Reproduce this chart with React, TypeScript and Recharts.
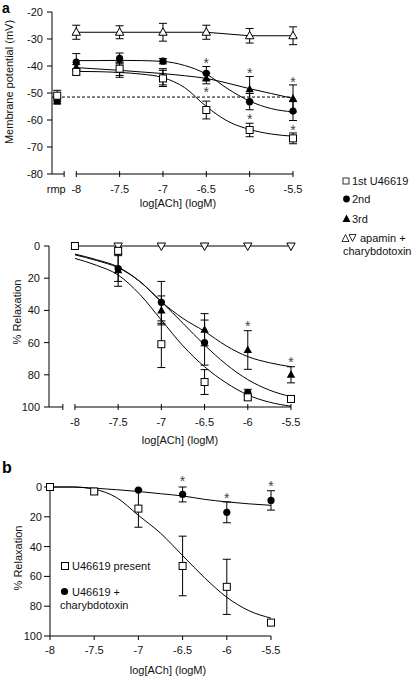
import React from "react";
import {
  ComposedChart,
  Line,
  Scatter,
  XAxis,
  YAxis,
  ErrorBar,
  ReferenceLine,
  ReferenceDot,
} from "recharts";

const FONT = "'Liberation Sans', Arial, Helvetica, sans-serif";
const INK = "#111";

const X_LOG = [-8, -7.5, -7, -6.5, -6, -5.5];
const X_FIT = [-8, -7.75, -7.5, -7.25, -7, -6.75, -6.5, -6.25, -6, -5.75, -5.5];

// panel a, top: membrane potential (mV)
const RMP_X = -8.22;
const MP_BREAK = -8.14;
const rmpOpen = -51;
const rmpOpenErr = 2;
const rmpFilled = -53;
const mpFirst = [-42.2, -41, -44.6, -56.3, -63.7, -66.8];
const mpFirstErr = [1, 2.5, 3, 3.3, 2.5, 2];
const mpSecond = [-38.6, -37.2, -38.2, -42.7, -53.2, -56.7];
const mpSecondErr = [3.2, 2, 1, 2.5, 3, 3.5];
const mpThird = [-40.5, -41.5, -44, -44.6, -48.6, -52];
const mpThirdErr = [1, 2.7, 3, 2, 4.7, 5];
const mpApamin = [-27.5, -27.5, -27.5, -27.5, -28.8, -28.8];
const mpApaminErr = [2.6, 2.4, 3.3, 2.6, 2.7, 3.3];
const mpFirstFit = [-42, -42.1, -42.4, -43, -44.3, -48, -55, -60.5, -63.5, -65.2, -66];
const mpSecondFit = [-38, -38, -37.9, -38, -38.3, -39.8, -43, -48.5, -53, -55.8, -57];
const mpThirdFit = [-40.6, -41.1, -41.6, -42.2, -42.8, -43.6, -44.6, -46.4, -48.4, -50.2, -52];
const mpDash = -51.5;
const mpStarX = [-6.5, -6.5, -6, -6, -5.5, -5.5];
const mpStarY = [-37.7, -48.5, -41.4, -58.5, -44.7, -62.5];

// panel a, bottom: % relaxation
const REL_BREAK = -8.14;
const relFirst = [0, 3, 61, 84.5, 94, 95];
const relFirstErr = [0, 2, 14.5, 7.7, 1.5, 1.5];
const relX2 = [-7.5, -7, -6.5, -6, -5.5];
const relSecond = [14, 35, 60, 91, 95];
const relSecondErr = [8, 13, 14, 2, 1];
const relThird = [15, 40, 52, 64.6, 80];
const relThirdErr = [10, 9, 10, 12, 5];
const relApamin = [0, 0, 0, 0, 0, 0];
const relFirstFit = [7.7, 12, 18, 30, 46, 62, 75, 85, 92.5, 97, 99.5];
const relSecondFit = [5.5, 9, 13.5, 22, 34.6, 48, 61.5, 73.5, 83, 89.5, 93.6];
const relThirdFit = [5, 8.5, 13, 22, 34.6, 45, 53, 62, 68.7, 72.5, 75];
const relStarX = [-6, -5.5];
const relStarY = [47.6, 70];

// panel b: % relaxation, U46619 present vs + charybdotoxin
const bPresent = [0, 3, 14.5, 53, 67, 91];
const bPresentErr = [0, 2, 12.5, 20, 18.5, 0];
const bChtxX = [-7, -6.5, -6, -5.5];
const bChtx = [2, 5, 17, 9];
const bChtxErr = [0, 5, 7, 6.5];
const bPresentFit = [0, 0, 1.5, 7, 19, 31, 46, 61, 74, 83, 88];
const bChtxFit = [0, 0, 0.8, 1.8, 3, 4.5, 6, 8.3, 10, 11.3, 12.3];
const bStarX = [-6.5, -6, -5.5];
const bStarY = [-6, 5.2, -2.7];

const pts = (xs: number[], ys: number[], es?: number[]) =>
  xs.map((x, i) => ({ x, y: ys[i], e: es ? es[i] : 0 }));

const tickText = { fill: INK, fontSize: 11, fontFamily: FONT };

const OpenSquare = (p: any) => (
  <rect x={p.cx - 3.5} y={p.cy - 3.5} width={7} height={7} fill="#fff" stroke="#000" />
);
const FilledSquare = (p: any) => (
  <rect x={p.cx - 3.5} y={p.cy - 3.5} width={7} height={7} fill="#000" />
);
const FilledCircle = (p: any) => <circle cx={p.cx} cy={p.cy} r={3.6} fill="#000" />;
const FilledTriangle = (p: any) => (
  <polygon
    points={`${p.cx},${p.cy - 4.5} ${p.cx - 4.2},${p.cy + 3} ${p.cx + 4.2},${p.cy + 3}`}
    fill="#000"
  />
);
const OpenTriangle = (p: any) => (
  <polygon
    points={`${p.cx},${p.cy - 4.5} ${p.cx - 4.2},${p.cy + 3} ${p.cx + 4.2},${p.cy + 3}`}
    fill="#fff"
    stroke="#000"
  />
);
const OpenTriangleDown = (p: any) => (
  <polygon
    points={`${p.cx},${p.cy + 4.5} ${p.cx - 4.2},${p.cy - 3} ${p.cx + 4.2},${p.cy - 3}`}
    fill="#fff"
    stroke="#000"
  />
);
const Star = (p: any) => (
  <text x={p.cx} y={p.cy + 8} textAnchor="middle" fontSize={14} fontFamily={FONT} fill="#444">
    *
  </text>
);

// x axis with a break: short stub for rmp, then the log scale
const BrokenTick = (props: any) => {
  const { x, y, payload } = props;
  const v = payload.value;
  if (v === RMP_X) {
    return (
      <text x={x - 1} y={y + 18.5} textAnchor="middle" {...tickText}>
        rmp
      </text>
    );
  }
  return (
    <g>
      <line x1={x} x2={x} y1={y - 3} y2={y + 3} stroke="#000" />
      {v !== MP_BREAK && (
        <text x={x} y={y + 18.5} textAnchor="middle" {...tickText}>
          {v}
        </text>
      )}
    </g>
  );
};

const errBar = (key: string) => (
  <ErrorBar dataKey={key} direction="y" width={4} stroke="#000" strokeWidth={1} />
);

const fitLine = (ys: number[]) => (
  <Line
    data={pts(X_FIT, ys)}
    dataKey="y"
    type="monotone"
    dot={false}
    stroke="#000"
    strokeWidth={1}
    isAnimationActive={false}
  />
);

const MembraneChart = () => (
  <ComposedChart width={412} height={215} margin={{ top: 12, right: 119, bottom: 0, left: 0 }}>
    <XAxis
      type="number"
      dataKey="x"
      domain={[-8.28, -5.5]}
      ticks={[RMP_X, MP_BREAK, ...X_LOG]}
      interval={0}
      axisLine={false}
      tickLine={false}
      tickSize={0}
      tickMargin={0}
      height={41}
      tick={(p: any) => <BrokenTick {...p} />}
    />
    <YAxis
      type="number"
      dataKey="y"
      domain={[-80, -20]}
      ticks={[-80, -70, -60, -50, -40, -30, -20]}
      width={52}
      tickSize={5}
      tickMargin={4}
      tick={tickText}
      axisLine={{ stroke: "#000" }}
      tickLine={{ stroke: "#000" }}
    />
    <ReferenceLine segment={[{ x: -8.28, y: -80 }, { x: MP_BREAK, y: -80 }]} stroke="#000" ifOverflow="visible" />
    <ReferenceLine segment={[{ x: -8, y: -80 }, { x: -5.5, y: -80 }]} stroke="#000" ifOverflow="visible" />
    <ReferenceLine y={mpDash} stroke="#000" strokeDasharray="3 2" />
    {fitLine(mpFirstFit)}
    {fitLine(mpSecondFit)}
    {fitLine(mpThirdFit)}
    <Line data={pts(X_LOG, mpApamin)} dataKey="y" type="linear" dot={false} stroke="#000" isAnimationActive={false} />
    <Scatter data={pts(X_LOG, mpApamin, mpApaminErr)} shape={OpenTriangle} isAnimationActive={false}>
      {errBar("e")}
    </Scatter>
    <Scatter data={pts([RMP_X], [rmpFilled], [1])} shape={FilledSquare} isAnimationActive={false}>
      {errBar("e")}
    </Scatter>
    <Scatter data={pts(X_LOG, mpThird, mpThirdErr)} shape={FilledTriangle} isAnimationActive={false}>
      {errBar("e")}
    </Scatter>
    <Scatter data={pts(X_LOG, mpSecond, mpSecondErr)} shape={FilledCircle} isAnimationActive={false}>
      {errBar("e")}
    </Scatter>
    <Scatter
      data={[...pts([RMP_X], [rmpOpen], [rmpOpenErr]), ...pts(X_LOG, mpFirst, mpFirstErr)]}
      shape={OpenSquare}
      isAnimationActive={false}
    >
      {errBar("e")}
    </Scatter>
    {mpStarX.map((x, i) => (
      <ReferenceDot key={i} x={x} y={mpStarY[i]} shape={Star} ifOverflow="visible" />
    ))}
  </ComposedChart>
);

const RelaxChart = () => (
  <ComposedChart width={412} height={230} margin={{ top: 26, right: 121, bottom: 0, left: 0 }}>
    <XAxis
      type="number"
      dataKey="x"
      domain={[-8.3, -5.5]}
      ticks={[REL_BREAK, ...X_LOG]}
      interval={0}
      axisLine={false}
      tickLine={false}
      tickSize={0}
      tickMargin={0}
      height={43}
      tick={(p: any) => <BrokenTick {...p} />}
    />
    <YAxis
      type="number"
      dataKey="y"
      reversed
      domain={[0, 100]}
      ticks={[0, 20, 40, 60, 80, 100]}
      width={49}
      tickSize={5}
      tickMargin={4}
      tick={tickText}
      axisLine={{ stroke: "#000" }}
      tickLine={{ stroke: "#000" }}
    />
    <ReferenceLine segment={[{ x: -8.3, y: 100 }, { x: REL_BREAK, y: 100 }]} stroke="#000" ifOverflow="visible" />
    <ReferenceLine segment={[{ x: -8, y: 100 }, { x: -5.5, y: 100 }]} stroke="#000" ifOverflow="visible" />
    {fitLine(relFirstFit)}
    {fitLine(relSecondFit)}
    {fitLine(relThirdFit)}
    <Line data={pts(X_LOG, relApamin)} dataKey="y" type="linear" dot={false} stroke="#000" isAnimationActive={false} />
    <Scatter data={pts(X_LOG.slice(1), relApamin.slice(1))} shape={OpenTriangleDown} isAnimationActive={false} />
    <Scatter data={pts(relX2, relThird, relThirdErr)} shape={FilledTriangle} isAnimationActive={false}>
      {errBar("e")}
    </Scatter>
    <Scatter data={pts(relX2, relSecond, relSecondErr)} shape={FilledCircle} isAnimationActive={false}>
      {errBar("e")}
    </Scatter>
    <Scatter data={pts(X_LOG, relFirst, relFirstErr)} shape={OpenSquare} isAnimationActive={false}>
      {errBar("e")}
    </Scatter>
    {relStarX.map((x, i) => (
      <ReferenceDot key={i} x={x} y={relStarY[i]} shape={Star} ifOverflow="visible" />
    ))}
  </ComposedChart>
);

const PanelBChart = () => (
  <ComposedChart width={412} height={220} margin={{ top: 27, right: 141, bottom: 0, left: 0 }}>
    <XAxis
      type="number"
      dataKey="x"
      domain={[-8, -5.5]}
      ticks={X_LOG}
      interval={0}
      height={44}
      tickSize={4}
      tickMargin={6}
      tick={tickText}
      axisLine={{ stroke: "#000" }}
      tickLine={{ stroke: "#000" }}
    />
    <YAxis
      type="number"
      dataKey="y"
      reversed
      domain={[0, 100]}
      ticks={[0, 20, 40, 60, 80, 100]}
      width={50}
      tickSize={6}
      tickMargin={2}
      tick={tickText}
      axisLine={{ stroke: "#000" }}
      tickLine={{ stroke: "#000" }}
    />
    {fitLine(bPresentFit)}
    {fitLine(bChtxFit)}
    <Scatter data={pts(bChtxX, bChtx, bChtxErr)} shape={FilledCircle} isAnimationActive={false}>
      {errBar("e")}
    </Scatter>
    <Scatter data={pts(X_LOG, bPresent, bPresentErr)} shape={OpenSquare} isAnimationActive={false}>
      {errBar("e")}
    </Scatter>
    {bStarX.map((x, i) => (
      <ReferenceDot key={i} x={x} y={bStarY[i]} shape={Star} ifOverflow="visible" />
    ))}
  </ComposedChart>
);

const txt = { fontFamily: FONT, fontSize: 11, fill: INK } as const;

const Overlay = () => (
  <svg width={412} height={680} style={{ position: "absolute", left: 0, top: 0, pointerEvents: "none" }}>
    <text x={2} y={13} fontFamily={FONT} fontSize={14} fontWeight="bold" fill="#000">a</text>
    <text x={2} y={473} fontFamily={FONT} fontSize={16} fontWeight="bold" fill="#000">b</text>

    <text transform="translate(9,82) rotate(-90)" textAnchor="middle" dy="0.35em" {...txt}>
      Membrane potential (mV)
    </text>
    <text transform="translate(17,312) rotate(-90)" textAnchor="middle" dy="0.35em" {...txt}>
      % Relaxation
    </text>
    <text transform="translate(18,558) rotate(-90)" textAnchor="middle" dy="0.35em" {...txt}>
      % Relaxation
    </text>

    <text x={178} y={207} textAnchor="middle" {...txt}>log[ACh] (logM)</text>
    <text x={180} y={444} textAnchor="middle" {...txt}>log[ACh] (logM)</text>
    <text x={168} y={674} textAnchor="middle" {...txt}>log[ACh] (logM)</text>

    {/* legend, panel a */}
    <rect x={343} y={178} width={6} height={6} fill="#fff" stroke="#000" strokeWidth={0.8} />
    <text x={352} y={185} {...txt}>1st U46619</text>
    <circle cx={346.5} cy={199} r={3.4} fill="#000" />
    <text x={352} y={203} {...txt}>2nd</text>
    <polygon points="346.5,214.5 342.5,222 350.5,222" fill="#000" />
    <text x={352} y={222.5} {...txt}>3rd</text>
    <polygon points="345.5,234.5 342,241.5 349,241.5" fill="#fff" stroke="#000" strokeWidth={0.8} />
    <polygon points="352.5,241.5 349,234.5 356,234.5" fill="#fff" stroke="#000" strokeWidth={0.8} />
    <text x={360} y={242} {...txt}>apamin +</text>
    <text x={343} y={254.5} {...txt}>charybdotoxin</text>

    {/* legend, panel b */}
    <rect x={61.5} y={562.5} width={7} height={7} fill="#fff" stroke="#000" />
    <text x={72} y={570} {...txt}>U46619 present</text>
    <circle cx={64.5} cy={591.5} r={3.6} fill="#000" />
    <text x={72} y={595.5} {...txt}>U46619 +</text>
    <text x={60} y={608.5} {...txt}>charybdotoxin</text>
  </svg>
);

export default function App() {
  return (
    <div style={{ position: "absolute", left: 0, top: 0, width: 412, height: 680, background: "#fff" }}>
      <div style={{ position: "absolute", left: 0, top: 0 }}>
        <MembraneChart />
      </div>
      <div style={{ position: "absolute", left: 0, top: 220 }}>
        <RelaxChart />
      </div>
      <div style={{ position: "absolute", left: 0, top: 460 }}>
        <PanelBChart />
      </div>
      <Overlay />
    </div>
  );
}
